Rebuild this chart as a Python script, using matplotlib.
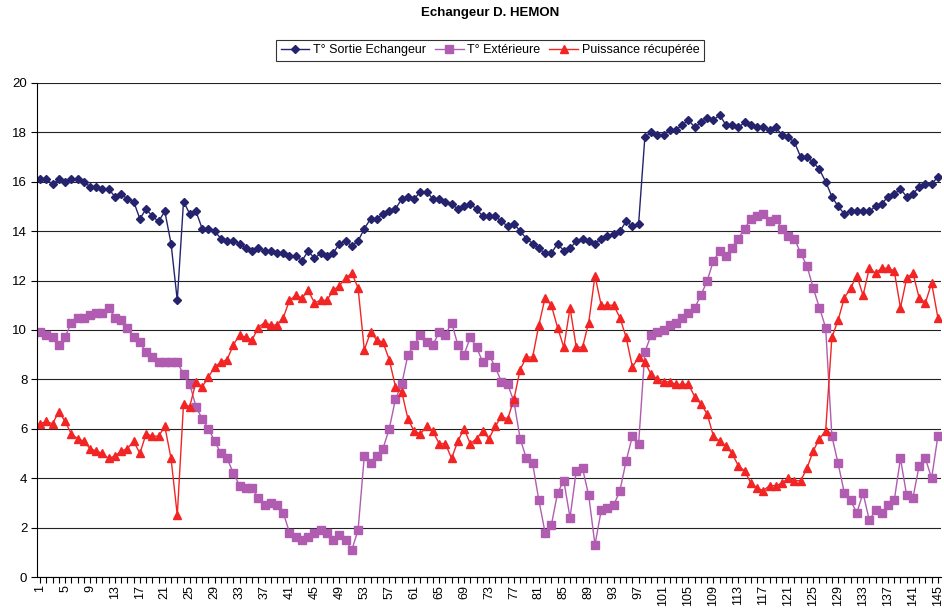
import matplotlib
matplotlib.use("Agg")
import matplotlib.pyplot as plt
import numpy as np

plt.rcParams['font.family'] = ['Liberation Sans', 'DejaVu Sans']

# series
sortie = [16.1, 16.1, 15.9, 16.1, 16.0, 16.1, 16.1, 16.0, 15.8, 15.8, 15.7, 15.7, 15.4, 15.5, 15.3, 15.2, 14.5, 14.9, 14.6, 14.4, 14.8, 13.5, 11.2, 15.2, 14.7,
          14.8, 14.1, 14.1, 14.0, 13.7, 13.6, 13.6, 13.5, 13.3, 13.2, 13.3, 13.2, 13.2, 13.1, 13.1, 13.0, 13.0, 12.8, 13.2, 12.9, 13.1, 13.0, 13.1, 13.5,
          13.6, 13.4, 13.6, 14.1, 14.5, 14.5, 14.7, 14.8, 14.9, 15.3, 15.4, 15.3, 15.6, 15.6, 15.3, 15.3, 15.2, 15.1, 14.9, 15.0, 15.1, 14.9, 14.6, 14.6,
          14.6, 14.4, 14.2, 14.3, 14.0, 13.7, 13.5, 13.3, 13.1, 13.1, 13.5, 13.2, 13.3, 13.6, 13.7, 13.6, 13.5, 13.7, 13.8, 13.9, 14.0, 14.4, 14.2, 14.3,
          17.8, 18.0, 17.9, 17.9, 18.1, 18.1, 18.3, 18.5, 18.2, 18.4, 18.6, 18.5, 18.7, 18.3, 18.3, 18.2, 18.4, 18.3, 18.2, 18.2, 18.1, 18.2, 17.9, 17.8,
          17.6, 17.0, 17.0, 16.8, 16.5, 16.0, 15.4, 15.0, 14.7, 14.8, 14.8, 14.8, 14.8, 15.0, 15.1, 15.4, 15.5, 15.7, 15.4, 15.5, 15.8, 15.9, 15.9, 16.2]

exterieure = [9.9, 9.8, 9.7, 9.4, 9.7, 10.3, 10.5, 10.5, 10.6, 10.7, 10.7, 10.9, 10.5, 10.4, 10.1, 9.7, 9.5, 9.1, 8.9, 8.7, 8.7, 8.7, 8.7, 8.2, 7.8,
              6.9, 6.4, 6.0, 5.5, 5.0, 4.8, 4.2, 3.7, 3.6, 3.6, 3.2, 2.9, 3.0, 2.9, 2.6, 1.8, 1.6, 1.5, 1.6, 1.8, 1.9, 1.8, 1.5, 1.7,
              1.5, 1.1, 1.9, 4.9, 4.6, 4.9, 5.2, 6.0, 7.2, 7.8, 9.0, 9.4, 9.8, 9.5, 9.4, 9.9, 9.8, 10.3, 9.4, 9.0, 9.7, 9.3, 8.7, 9.0,
              8.5, 7.9, 7.8, 7.1, 5.6, 4.8, 4.6, 3.1, 1.8, 2.1, 3.4, 3.9, 2.4, 4.3, 4.4, 3.3, 1.3, 2.7, 2.8, 2.9, 3.5, 4.7, 5.7, 5.4,
              9.1, 9.8, 9.9, 10.0, 10.2, 10.3, 10.5, 10.7, 10.9, 11.4, 12.0, 12.8, 13.2, 13.0, 13.3, 13.7, 14.1, 14.5, 14.6, 14.7, 14.4, 14.5, 14.1, 13.8,
              13.7, 13.1, 12.6, 11.7, 10.9, 10.1, 5.7, 4.6, 3.4, 3.1, 2.6, 3.4, 2.3, 2.7, 2.6, 2.9, 3.1, 4.8, 3.3, 3.2, 4.5, 4.8, 4.0, 5.7]

puissance = [6.2, 6.3, 6.2, 6.7, 6.3, 5.8, 5.6, 5.5, 5.2, 5.1, 5.0, 4.8, 4.9, 5.1, 5.2, 5.5, 5.0, 5.8, 5.7, 5.7, 6.1, 4.8, 2.5, 7.0, 6.9,
             7.9, 7.7, 8.1, 8.5, 8.7, 8.8, 9.4, 9.8, 9.7, 9.6, 10.1, 10.3, 10.2, 10.2, 10.5, 11.2, 11.4, 11.3, 11.6, 11.1, 11.2, 11.2, 11.6, 11.8,
             12.1, 12.3, 11.7, 9.2, 9.9, 9.6, 9.5, 8.8, 7.7, 7.5, 6.4, 5.9, 5.8, 6.1, 5.9, 5.4, 5.4, 4.8, 5.5, 6.0, 5.4, 5.6, 5.9, 5.6,
             6.1, 6.5, 6.4, 7.2, 8.4, 8.9, 8.9, 10.2, 11.3, 11.0, 10.1, 9.3, 10.9, 9.3, 9.3, 10.3, 12.2, 11.0, 11.0, 11.0, 10.5, 9.7, 8.5, 8.9,
             8.7, 8.2, 8.0, 7.9, 7.9, 7.8, 7.8, 7.8, 7.3, 7.0, 6.6, 5.7, 5.5, 5.3, 5.0, 4.5, 4.3, 3.8, 3.6, 3.5, 3.7, 3.7, 3.8, 4.0,
             3.9, 3.9, 4.4, 5.1, 5.6, 5.9, 9.7, 10.4, 11.3, 11.7, 12.2, 11.4, 12.5, 12.3, 12.5, 12.5, 12.4, 10.9, 12.1, 12.3, 11.3, 11.1, 11.9, 10.5]

x = np.arange(1, len(sortie) + 1)

fig = plt.figure(figsize=(9.44, 6.13), dpi=100)
ax = fig.add_axes([0.0392, 0.0587, 0.9576, 0.806])

ax.plot(x, sortie, '-D', color='#25236E', lw=1, ms=4.5, label='T° Sortie Echangeur')
ax.plot(x, exterieure, '-s', color='#B05CB0', lw=1, ms=5.5, label='T° Extérieure')
ax.plot(x, puissance, '-^', color='#F22424', lw=1, ms=5.5, label='Puissance récupérée')

ax.set_ylim(0, 20)
ax.set_xlim(0.5, len(x) + 0.5)
ax.set_yticks(range(0, 21, 2))
ax.yaxis.grid(True, color='#222222', lw=0.8)
ax.set_axisbelow(True)
ax.set_xticks(x)
ax.set_xticklabels([str(i) if i % 4 == 1 else '' for i in x], rotation=90, fontsize=9)
ax.tick_params(axis='y', labelsize=9.5, length=4, direction='out', pad=3)
ax.tick_params(axis='x', length=4, direction='out', pad=2)
ax.spines['right'].set_visible(False)
ax.spines['top'].set_visible(False)

fig.text(0.519, 0.979, 'Echangeur D. HEMON', ha='center', va='center', fontsize=9.5, fontweight='bold')
leg = fig.legend(loc='center', bbox_to_anchor=(0.519, 0.918), ncol=3, fontsize=9,
                 frameon=True, fancybox=False, edgecolor='black', handlelength=2.3,
                 columnspacing=0.7, handletextpad=0.3, borderpad=0.35, borderaxespad=0)
leg.get_frame().set_linewidth(0.8)

fig.savefig('out.png', dpi=100)
